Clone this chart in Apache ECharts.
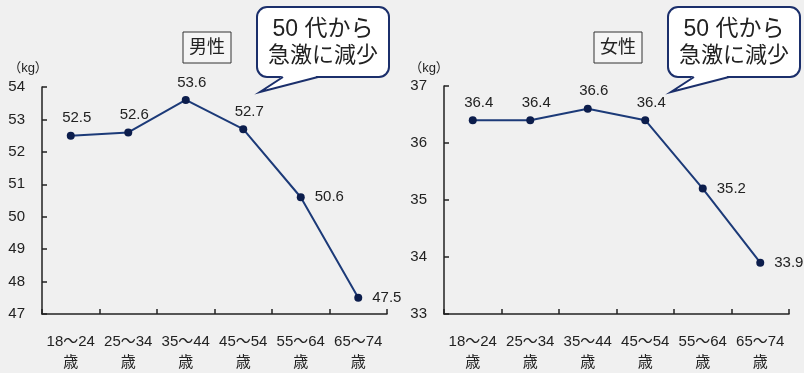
<!DOCTYPE html>
<html>
<head>
<meta charset="utf-8">
<script src="https://cdn.jsdelivr.net/npm/echarts@6/dist/echarts.min.js"></script>
<style>
  html, body { margin: 0; padding: 0; background: #f0f0f0; }
  #chart { width: 804px; height: 373px; }
</style>
</head>
<body>
<div id="chart"></div>
<script>
// Age groups shared by both panels
const ageGroups = ['18～24\n歳', '25～34\n歳', '35～44\n歳', '45～54\n歳', '55～64\n歳', '65～74\n歳'];

// Average weight (kg)
const maleWeight = [52.5, 52.6, 53.6, 52.7, 50.6, 47.5];
const femaleWeight = [36.4, 36.4, 36.6, 36.4, 35.2, 33.9];

// Y-axis ranges
const maleAxis = { min: 47, max: 54, step: 1 };
const femaleAxis = { min: 33, max: 37, step: 1 };

const panelTitles = ['男性', '女性'];
const calloutLines = ['50 代から', '急激に減少'];

// Where each value label sits relative to its point
const labelPlacement = ['top', 'top', 'top', 'top', 'right', 'right'];

const FONT = '"Liberation Sans", Arial, "Noto Sans CJK JP", sans-serif';
const LINE = '#1c3a78';
const DOT = '#0c1d4c';
const INK = '#222';
const BUBBLE_EDGE = '#1b2f6b';

function withLabels(values) {
  return values.map((v, i) => ({
    value: v,
    label: labelPlacement[i] === 'top'
      ? { position: 'top', distance: 6, offset: [6, 0] }
      : { position: 'right', distance: 10, offset: [0, 0] }
  }));
}

function yAxis(idx, range) {
  return {
    type: 'value', gridIndex: idx,
    min: range.min, max: range.max, interval: range.step,
    axisLine: { show: true, lineStyle: { color: INK, width: 1.5 } },
    axisTick: { show: true, inside: true, length: 5, lineStyle: { color: INK, width: 1.5 } },
    axisLabel: { color: INK, fontSize: 15, fontFamily: FONT, margin: 17 },
    splitLine: { show: false }
  };
}

function xAxis(idx) {
  return {
    type: 'category', gridIndex: idx, data: ageGroups, boundaryGap: true,
    axisLine: { lineStyle: { color: INK, width: 1.5 } },
    axisTick: { show: true, inside: true, length: 5, lineStyle: { color: INK, width: 1.5 } },
    axisLabel: { color: INK, fontSize: 15, fontFamily: FONT, margin: 17, lineHeight: 21, interval: 0 }
  };
}

function series(idx, values) {
  return {
    type: 'line', xAxisIndex: idx, yAxisIndex: idx,
    data: withLabels(values),
    symbol: 'circle', symbolSize: 8,
    itemStyle: { color: DOT },
    lineStyle: { color: LINE, width: 2 },
    label: { show: true, color: INK, fontSize: 15, fontFamily: FONT },
    animation: false
  };
}

// Speech bubble: rounded box plus a tail toward the lower left
function callout(dx) {
  const x0 = 257 + dx, x1 = 389 + dx, y0 = 7, y1 = 77;
  const baseA = [283 + dx, y1], baseB = [318 + dx, y1], tip = [260 + dx, 92];
  return [
    {
      type: 'rect', z: 10,
      shape: { x: x0, y: y0, width: x1 - x0, height: y1 - y0, r: 10 },
      style: { fill: '#fff', stroke: BUBBLE_EDGE, lineWidth: 2 }
    },
    {
      type: 'polygon', z: 11,
      shape: { points: [[baseA[0] + 1, y1 - 2], [baseB[0] - 1, y1 - 2], [baseB[0] - 3, y1 + 1], tip] },
      style: { fill: '#fff' }
    },
    {
      type: 'polyline', z: 12,
      shape: { points: [baseA, tip, baseB] },
      style: { fill: null, stroke: BUBBLE_EDGE, lineWidth: 2 }
    },
    {
      type: 'text', z: 13, x: (x0 + x1) / 2, y: 30,
      style: { text: calloutLines[0], fill: INK, font: '23px ' + FONT, align: 'center', verticalAlign: 'middle' }
    },
    {
      type: 'text', z: 13, x: (x0 + x1) / 2, y: 56,
      style: { text: calloutLines[1], fill: INK, font: '22px ' + FONT, align: 'center', verticalAlign: 'middle' }
    }
  ];
}

function titleBox(x, text) {
  return [
    { type: 'rect', shape: { x: x, y: 32, width: 48, height: 31 }, style: { fill: '#f5f5f5', stroke: '#333', lineWidth: 1 } },
    { type: 'text', x: x + 24, y: 48, style: { text: text, fill: INK, font: '18px ' + FONT, align: 'center', verticalAlign: 'middle' } }
  ];
}

function unitLabel(x) {
  return { type: 'text', x: x, y: 68, style: { text: '（kg）', fill: INK, font: '13px ' + FONT, align: 'center', verticalAlign: 'middle' } };
}

const chart = echarts.init(document.getElementById('chart'), null, { renderer: 'canvas' });
chart.setOption({
  backgroundColor: '#f0f0f0',
  animation: false,
  grid: [
    { left: 42, top: 87, width: 345, height: 235 },
    { left: 444, top: 86, width: 345, height: 235 }
  ],
  xAxis: [xAxis(0), xAxis(1)],
  yAxis: [yAxis(0, maleAxis), yAxis(1, femaleAxis)],
  series: [series(0, maleWeight), series(1, femaleWeight)],
  graphic: [
    ...titleBox(183, panelTitles[0]),
    ...titleBox(594, panelTitles[1]),
    unitLabel(28),
    unitLabel(429),
    ...callout(0),
    ...callout(411)
  ]
});
</script>
</body>
</html>
